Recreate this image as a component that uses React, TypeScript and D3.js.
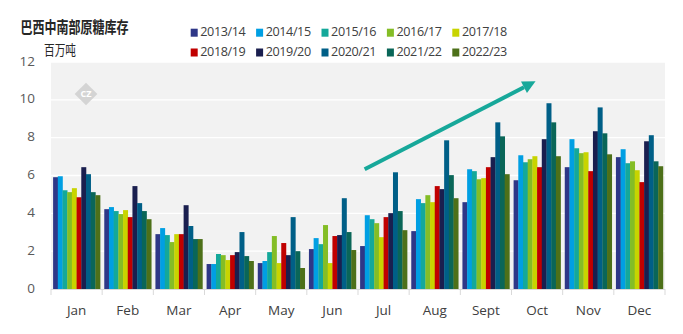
import React from "react";
import * as d3 from "d3";

const months = ["Jan","Feb","Mar","Apr","May","Jun","Jul","Aug","Sept","Oct","Nov","Dec"];
const seasons = ["2013/14","2014/15","2015/16","2016/17","2017/18","2018/19","2019/20","2020/21","2021/22","2022/23"];
const seasonColors = ["#2e3787","#009fe3","#14a89a","#84bd26","#c8d400","#c00000","#1a1f4f","#005f87","#0a6658","#4d7019"];

// values per season, Jan..Dec (million tonnes)
const s1314 = [5.91,4.22,2.90,1.32,1.37,2.11,2.27,3.06,4.59,5.75,6.44,6.97];
const s1415 = [5.96,4.33,3.22,1.32,1.48,2.69,3.90,4.75,6.33,7.07,7.92,7.39];
const s1516 = [5.22,4.12,2.85,1.85,1.95,2.37,3.69,4.54,6.23,6.70,7.44,6.65];
const s1617 = [5.12,3.96,2.48,1.79,2.80,3.38,3.48,4.96,5.80,6.86,7.18,6.75];
const s1718 = [5.33,4.17,2.90,1.53,1.37,1.37,2.74,4.59,5.86,7.02,7.23,6.28];
const s1819 = [4.85,3.80,2.90,1.79,2.43,2.80,3.80,5.44,6.44,6.44,6.23,5.65];
const s1920 = [6.44,5.44,4.43,1.95,1.79,2.85,4.01,5.28,6.97,7.92,8.34,7.81];
const s2021 = [6.07,4.54,3.33,3.01,3.80,4.80,6.17,7.86,8.81,9.82,9.60,8.13];
const s2122 = [5.12,4.12,2.64,1.74,2.00,3.01,4.12,6.02,8.07,8.81,8.23,6.75];
const s2223 = [4.96,3.69,2.64,1.48,1.11,2.06,3.11,4.80,6.07,7.02,7.12,6.49];
const seriesValues = [s1314,s1415,s1516,s1617,s1718,s1819,s1920,s2021,s2122,s2223];

const yTicks = [0,2,4,6,8,10,12];
const title = "巴西中南部原糖库存";
const unit = "百万吨";
const logoText = "CZ";

// trend arrow annotation: month + fraction of band, value
const arrowFrom = { month: "Jul", frac: 0.13, value: 6.33 };
const arrowTo = { month: "Oct", frac: 0.47, value: 10.98 };

export default function App() {
  const W = 683, H = 334;
  const left = 51, right = 665, top = 62, bottom = 289;
  const x0 = d3.scaleBand<string>().domain(months).range([left, right]).padding(0);
  const bw = x0.bandwidth();
  const x1 = d3.scaleBand<string>().domain(seasons).range([2.1, bw - 2.1]).padding(0);
  const y = d3.scaleLinear().domain([0, 12]).range([bottom, top]);

  const ax = x0(arrowFrom.month)! + arrowFrom.frac * bw;
  const ay = y(arrowFrom.value);
  const bx = x0(arrowTo.month)! + arrowTo.frac * bw;
  const by = y(arrowTo.value);
  const ang = Math.atan2(by - ay, bx - ax);
  const headLen = 13, headW = 6.5;
  const hx = bx - headLen * Math.cos(ang), hy = by - headLen * Math.sin(ang);
  const px = -Math.sin(ang), py = Math.cos(ang);
  const head = [
    [bx, by],
    [hx + px * headW, hy + py * headW],
    [hx - px * headW, hy - py * headW],
  ].map(p => p.join(",")).join(" ");

  const font = "'Open Sans', 'Noto Sans', sans-serif";
  const cjk = "'Noto Sans CJK SC', sans-serif";

  return (
    <svg width={W} height={H} style={{ position: "absolute", left: 0, top: 0, background: "#fff" }}>
      <rect x={left} y={top} width={right - left} height={bottom - top} fill="#f2f2f2" />
      {yTicks.filter(t => t > 0).map(t => (
        <line key={t} x1={left} x2={right} y1={y(t)} y2={y(t)} stroke="#ffffff" strokeWidth={1.3} />
      ))}
      <g transform="translate(86,94)">
        <rect x={-8} y={-8} width={16} height={16} transform="rotate(45)" fill="#d4d4d4" />
        <text x={0} y={0.5} textAnchor="middle" dominantBaseline="middle" fontFamily={font}
          fontSize={9} fontWeight="bold" fill="#ffffff">{logoText}</text>
      </g>
      {seriesValues.map((vals, si) => (
        <g key={seasons[si]} fill={seasonColors[si]}>
          {vals.map((v, mi) => (
            <rect key={mi}
              x={x0(months[mi])! + x1(seasons[si])!}
              y={y(v)}
              width={x1.bandwidth() + 0.3}
              height={y(0) - y(v)} />
          ))}
        </g>
      ))}
      <line x1={left} x2={right} y1={bottom + 0.5} y2={bottom + 0.5} stroke="#d9d9d9" strokeWidth={1} />
      {months.map((m, i) => (
        <line key={"t" + m} x1={x0(m)!} x2={x0(m)!} y1={bottom} y2={bottom + 6} stroke="#d9d9d9" strokeWidth={1} />
      ))}
      <line x1={right} x2={right} y1={bottom} y2={bottom + 6} stroke="#d9d9d9" strokeWidth={1} />
      {months.map(m => (
        <text key={"l" + m} x={x0(m)! + bw / 2} y={311} textAnchor="middle" dominantBaseline="middle"
          fontFamily={font} fontSize={13.5} fill="#404040">{m}</text>
      ))}
      {yTicks.map(t => (
        <text key={"y" + t} x={35} y={y(t)} textAnchor="end" dominantBaseline="middle"
          fontFamily={font} fontSize={13.5} fill="#595959">{t}</text>
      ))}
      <line x1={ax} y1={ay} x2={hx} y2={hy} stroke="#17a89a" strokeWidth={4} />
      <polygon points={head} fill="#17a89a" />
      <text x={20.5} y={29} dominantBaseline="middle" fontFamily={cjk} fontWeight="bold" fontSize={16}
        fill="#262626" textLength={108} lengthAdjust="spacingAndGlyphs">{title}</text>
      <text x={44} y={51} dominantBaseline="middle" fontFamily={cjk} fontSize={14}
        fill="#262626" textLength={32} lengthAdjust="spacingAndGlyphs">{unit}</text>
      {seasons.map((s, i) => {
        const col = i % 5, row = Math.floor(i / 5);
        const lx = 190.7 + col * 65.4;
        const ly = row === 0 ? 32.7 : 52.5;
        return (
          <g key={"lg" + s}>
            <rect x={lx} y={ly - 4} width={7} height={8} fill={seasonColors[i]} />
            <text x={lx + 9.6} y={ly} dominantBaseline="middle" fontFamily={font} fontSize={12.6}
              letterSpacing={-0.4} fill="#404040">{s}</text>
          </g>
        );
      })}
    </svg>
  );
}
